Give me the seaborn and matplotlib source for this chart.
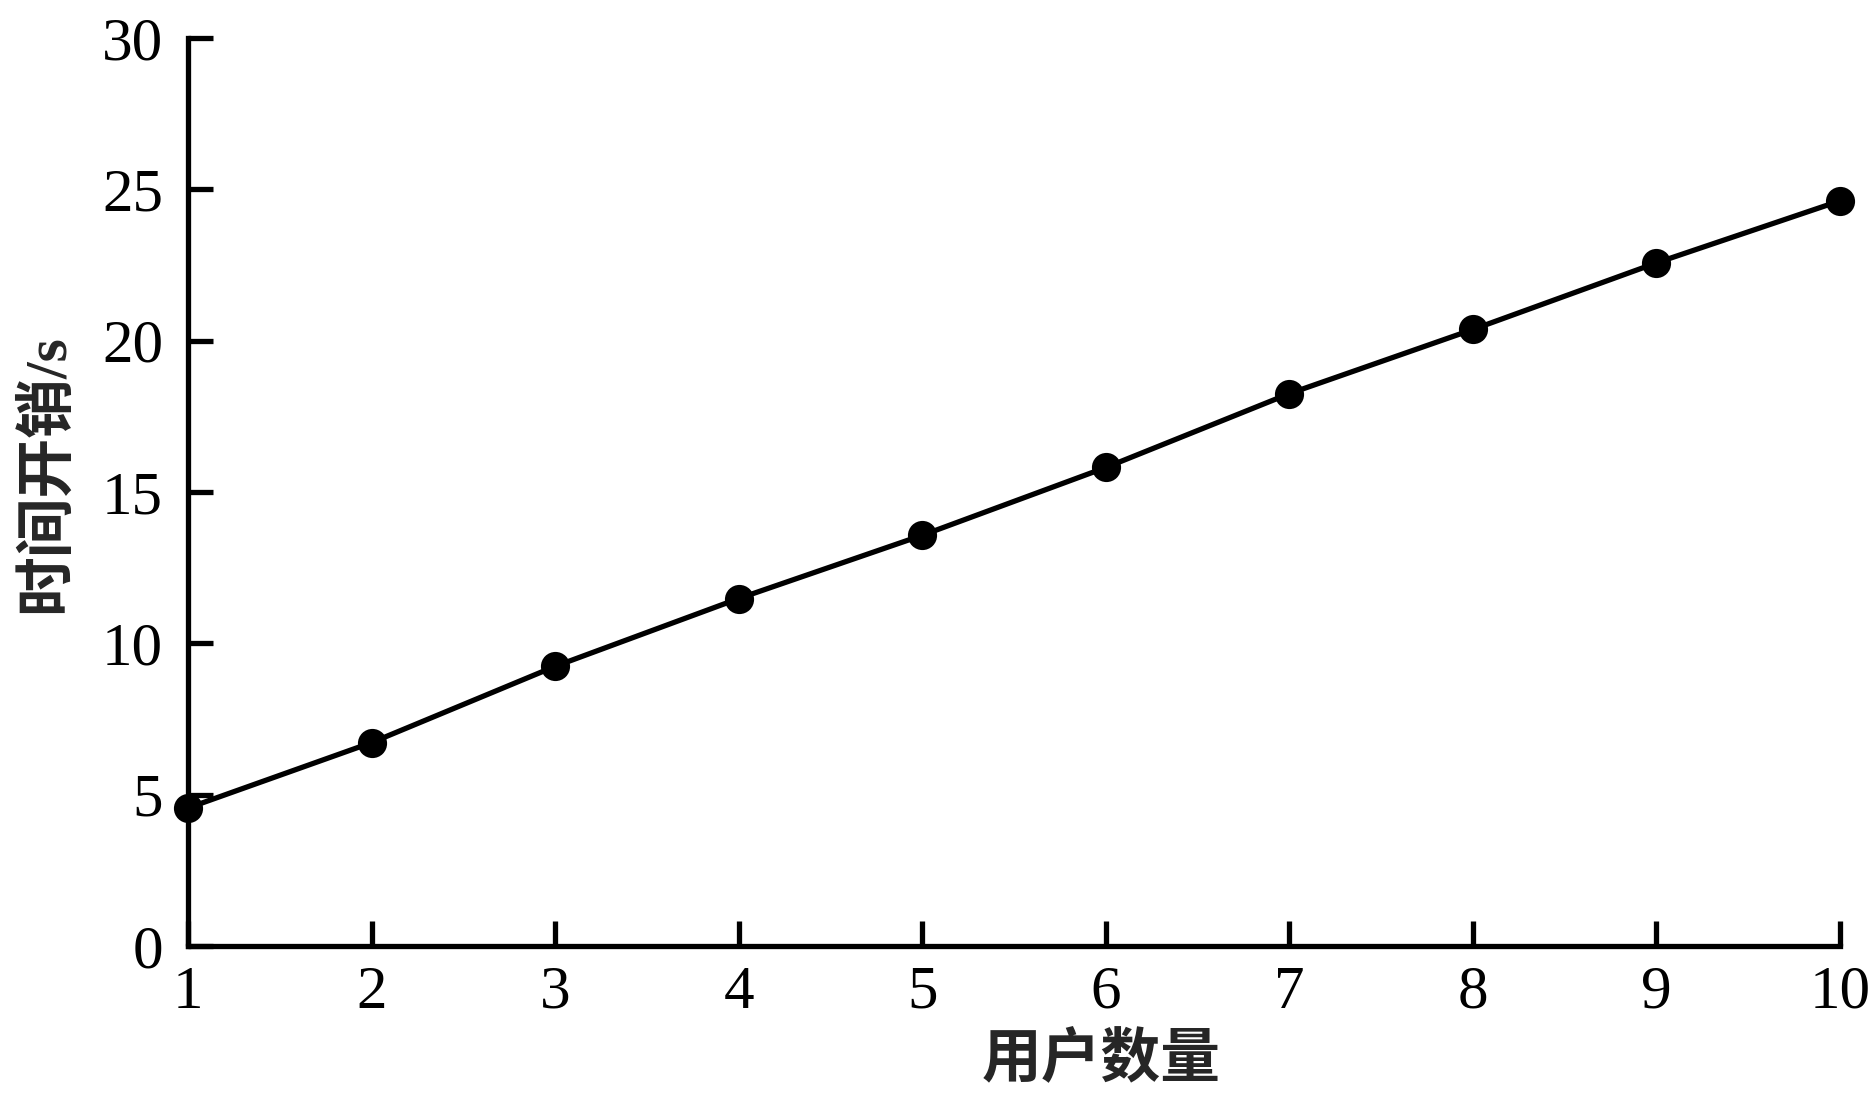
import matplotlib
matplotlib.use("Agg")
import matplotlib.pyplot as plt
import seaborn as sns
import pandas as pd

# données
users = [1, 2, 3, 4, 5, 6, 7, 8, 9, 10]
time_cost = [4.56, 6.72, 9.24, 11.48, 13.57, 15.81, 18.25, 20.37, 22.57, 24.62]
y_ticks = [0, 5, 10, 15, 20, 25, 30]

df = pd.DataFrame({"users": users, "time_cost": time_cost})

sns.set_style("ticks")
plt.rcParams['font.family'] = ['Liberation Serif', 'Noto Sans CJK SC']

fig = plt.figure(figsize=(18.69, 11.14), dpi=100)
ax = fig.add_axes([0.1006, 0.1508, 0.8839, 0.8151])

sns.lineplot(x="users", y="time_cost", data=df, ax=ax, color="black",
             linewidth=3.8, marker="o", markersize=21, markeredgewidth=0,
             clip_on=False)

ax.set_xlim(1, 10)
ax.set_ylim(0, 30)
ax.set_xticks(users)
ax.set_yticks(y_ticks)

for side in ["top", "right"]:
    ax.spines[side].set_visible(False)
for side in ["left", "bottom"]:
    ax.spines[side].set_linewidth(3.8)
    ax.spines[side].set_color("black")

ax.tick_params(axis="both", direction="in", length=18, width=3.8,
               labelsize=44, colors="black")
ax.tick_params(axis="x", pad=14)
ax.tick_params(axis="y", pad=18)

ax.set_xlabel("用户数量", fontsize=43, fontweight="bold", labelpad=22)
ax.set_ylabel("时间开销/s", fontsize=43, fontweight="bold", labelpad=19)
ax.xaxis.set_label_coords(0.553, -0.095, transform=ax.transAxes)
ax.xaxis.label.set_verticalalignment("top")
ax.yaxis.label.set_y(0.52)

fig.savefig("out.png", dpi=100, facecolor="white")
